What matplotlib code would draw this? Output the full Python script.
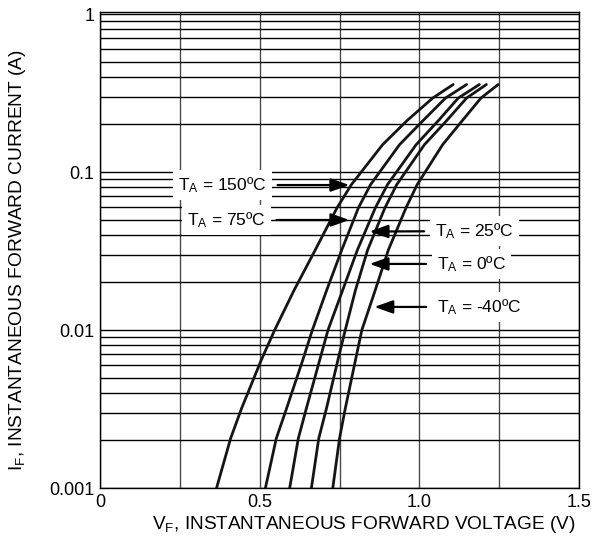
import numpy as np
import matplotlib
matplotlib.use("Agg")
import matplotlib.pyplot as plt
import matplotlib.ticker as tick

plt.rcParams['font.family'] = ['Liberation Sans', 'DejaVu Sans']
plt.rcParams['mathtext.fontset'] = 'custom'
plt.rcParams['mathtext.rm'] = 'Liberation Sans'
plt.rcParams['mathtext.it'] = 'Liberation Sans'

# forward current points (A)
i_f = [0.358, 0.294, 0.212, 0.149, 0.0831, 0.0592, 0.0321, 0.0179,
       0.01, 0.00646, 0.00318, 0.00206, 0.001]

# forward voltage at those currents for each temperature (V)
vf_150 = [1.106, 1.042, 0.962, 0.885, 0.787, 0.742, 0.674, 0.608, 0.547, 0.505, 0.443, 0.409, 0.365]
vf_75 = [1.148, 1.082, 1.012, 0.938, 0.847, 0.809, 0.757, 0.710, 0.665, 0.635, 0.584, 0.552, 0.518]
vf_25 = [1.188, 1.122, 1.060, 0.990, 0.900, 0.862, 0.806, 0.760, 0.714, 0.688, 0.646, 0.621, 0.594]
vf_0 = [1.210, 1.148, 1.086, 1.016, 0.929, 0.892, 0.838, 0.800, 0.768, 0.745, 0.709, 0.685, 0.662]
vf_m40 = [1.247, 1.193, 1.135, 1.073, 0.993, 0.958, 0.903, 0.862, 0.820, 0.800, 0.768, 0.750, 0.729]

curves = [vf_150, vf_75, vf_25, vf_0, vf_m40]

# label text, text position, arrow tip
labels = [r"T$_\mathrm{A}$ = 150ºC", r"T$_\mathrm{A}$ = 75ºC", r"T$_\mathrm{A}$ = 25ºC",
          r"T$_\mathrm{A}$ = 0ºC", r"T$_\mathrm{A}$ = -40ºC"]
label_xy = [(0.384, 0.0827), (0.396, 0.0497), (1.172, 0.0423), (1.1625, 0.0262), (1.1875, 0.0140)]
tip_xy = [(0.781, 0.0827), (0.781, 0.0497), (0.844, 0.0420), (0.844, 0.0262), (0.859, 0.0140)]

fig = plt.figure(figsize=(6.01, 5.38), dpi=100)
ax = fig.add_axes([0.1664, 0.0929, 0.7970, 0.8853])

ax.set_yscale('log')
ax.set_xlim(0, 1.5)
ax.set_ylim(0.001, 1.034)

ax.xaxis.set_major_locator(tick.FixedLocator([0, 0.5, 1.0, 1.5]))
ax.xaxis.set_minor_locator(tick.MultipleLocator(0.25))
ax.xaxis.set_major_formatter(tick.FixedFormatter(["0", "0.5", "1.0", "1.5"]))
ax.yaxis.set_major_locator(tick.FixedLocator([0.001, 0.01, 0.1, 1]))
ax.yaxis.set_major_formatter(tick.FixedFormatter(["0.001", "0.01", "0.1", "1"]))
ax.yaxis.set_minor_locator(tick.LogLocator(base=10, subs=np.arange(2, 10)))
ax.yaxis.set_minor_formatter(tick.NullFormatter())

ax.grid(which='both', axis='x', color='#4a4a4a', linewidth=1.0)
ax.grid(which='both', axis='y', color='black', linewidth=1.0)
ax.tick_params(which='both', length=0, labelsize=13, pad=4)
for s in ax.spines.values():
    s.set_linewidth(1.0)

for v in curves:
    ax.plot(v, i_f, color='#151515', linewidth=2.0, solid_capstyle='round',
            solid_joinstyle='round')

for txt, xy, tip in zip(labels, label_xy, tip_xy):
    ax.annotate(txt, xy=tip, xytext=xy, fontsize=12.5, ha='center', va='center',
                bbox=dict(boxstyle='square,pad=0.3', fc='white', ec='none'),
                arrowprops=dict(arrowstyle='-|>,head_length=0.9,head_width=0.32',
                                color='black', lw=1.6, shrinkA=4, shrinkB=0))

ax.set_xlabel(r"V$_\mathrm{F}$, INSTANTANEOUS FORWARD VOLTAGE (V)", fontsize=13.7)
ax.xaxis.set_label_coords(0.551, -0.055)
ax.set_ylabel(r"I$_\mathrm{F}$, INSTANTANEOUS FORWARD CURRENT (A)", fontsize=13.8)
ax.yaxis.set_label_coords(-0.150, 0.479)

fig.savefig("out.png", dpi=100)
